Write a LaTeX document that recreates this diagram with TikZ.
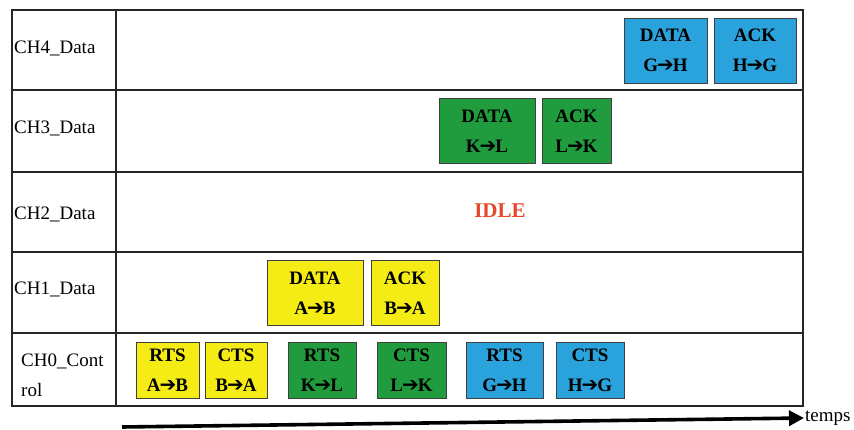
\documentclass[tikz,border=0pt]{standalone}
\usepackage{fontspec}
\setmainfont{Liberation Serif}
\newfontfamily\arrowfont{DejaVu Sans}
\newcommand\tarr{{\kern-1pt\arrowfont\fontsize{20}{30}\selectfont ➔\kern-1pt}}
\usetikzlibrary{arrows.meta}
\definecolor{chyellow}{RGB}{245,236,22}
\definecolor{chgreen}{RGB}{32,156,62}
\definecolor{chblue}{RGB}{42,163,220}
\definecolor{idlered}{RGB}{228,72,44}
\begin{document}
\begin{tikzpicture}[x=1pt,y=-1pt,
    gridline/.style={line width=1.1pt,draw=black!85},
    rowlabel/.style={anchor=west,inner sep=0pt,font=\fontsize{19}{30}\selectfont},
    framebox/.style={draw=black!75,line width=0.9pt,inner sep=0pt,align=center,
      minimum height=65pt,font=\bfseries\fontsize{19}{30}\selectfont},
    ctrlbox/.style={framebox,minimum height=56pt}]
  \useasboundingbox (0,0) rectangle (854,430);
  % table
  \draw[gridline] (12,10) rectangle (803,406);
  \draw[gridline] (116,10) -- (116,406);
  \foreach \y in {90,172,252,333}
    \draw[gridline] (12,\y) -- (803,\y);
  % channel names
  \node[rowlabel] (ch4) at (14,48) {CH4\_Data};
  \node[rowlabel] (ch3) at (14,128) {CH3\_Data};
  \node[rowlabel] (ch2) at (14,214) {CH2\_Data};
  \node[rowlabel] (ch1) at (14,289) {CH1\_Data};
  \node[rowlabel,align=left] (ch0) at (21,375) {CH0\_Cont\\rol};
  % CH4
  \node[framebox,fill=chblue,minimum width=83pt] (dataGH) at (665.5,50.5) {DATA\\G\tarr H};
  \node[framebox,fill=chblue,minimum width=82pt] (ackHG) at (755,50.5) {ACK\\H\tarr G};
  % CH3
  \node[framebox,fill=chgreen,minimum width=96pt] (dataKL) at (487,131) {DATA\\K\tarr L};
  \node[framebox,fill=chgreen,minimum width=69pt] (ackLK) at (576.5,131) {ACK\\L\tarr K};
  % CH2
  \node[font=\bfseries\fontsize{21}{24}\selectfont,text=idlered] (idle) at (500,211) {IDLE};
  % CH1
  \node[framebox,fill=chyellow,minimum width=96pt] (dataAB) at (315,293) {DATA\\A\tarr B};
  \node[framebox,fill=chyellow,minimum width=68pt] (ackBA) at (405,293) {ACK\\B\tarr A};
  % CH0
  \node[ctrlbox,fill=chyellow,minimum width=63pt] (rtsAB) at (167.5,370) {RTS\\A\tarr B};
  \node[ctrlbox,fill=chyellow,minimum width=62pt] (ctsBA) at (236,370) {CTS\\B\tarr A};
  \node[ctrlbox,fill=chgreen,minimum width=68pt] (rtsKL) at (322,370) {RTS\\K\tarr L};
  \node[ctrlbox,fill=chgreen,minimum width=69pt] (ctsLK) at (411.5,370) {CTS\\L\tarr K};
  \node[ctrlbox,fill=chblue,minimum width=77pt] (rtsGH) at (504.5,370) {RTS\\G\tarr H};
  \node[ctrlbox,fill=chblue,minimum width=68pt] (ctsHG) at (590,370) {CTS\\H\tarr G};
  % time axis
  \coordinate (t0) at (122,427);
  \node[anchor=west,inner sep=1pt,font=\fontsize{19}{24}\selectfont] (temps) at (804,418) {temps};
  \draw[line width=3.6pt,-{Triangle[length=15pt,width=15pt]}] (t0) -- (temps.west);
\end{tikzpicture}
\end{document}
